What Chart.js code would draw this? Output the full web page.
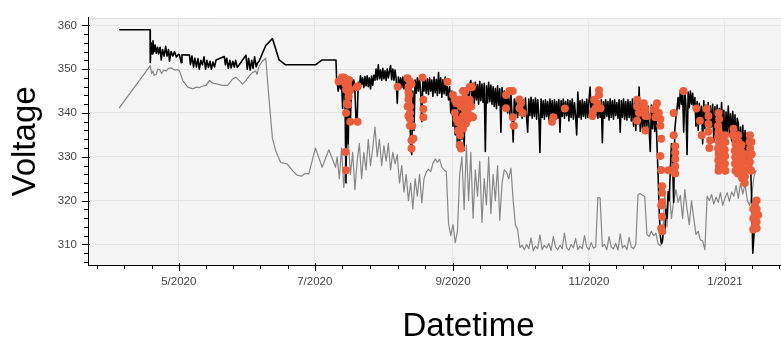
<!DOCTYPE html>
<html>
<head>
<meta charset="utf-8">
<title>Voltage</title>
<script src="https://cdn.jsdelivr.net/npm/chart.js@4.4.1/dist/chart.umd.min.js"></script>
<style>
  html, body { margin: 0; padding: 0; background: #fff; overflow: hidden; }
  #chart { display: block; }
</style>
</head>
<body>
<!-- the plot is wider than the window on purpose: the right part is cut off like in the source picture -->
<canvas id="chart" width="853" height="343"></canvas>
<script>
// ──────────────────────────────────────────────
//  Data
//  x values are days counted from 2020-03-01
// ──────────────────────────────────────────────
const X_MIN = 20.26;   // ~ 21 Mar 2020
const X_MAX = 361.65;  // ~ 26 Feb 2021
const Y_MIN = 305.3;
const Y_MAX = 361.7;

const xTickDays = [61, 122, 184, 245, 306];
const xTickLabels = ['5/2020', '7/2020', '9/2020', '11/2020', '1/2021'];
const yTicks = [310, 320, 330, 340, 350, 360];

// black trace before the logger goes noisy
const blackDays = [34.2, 48.1, 48.2, 48.6, 49.0, 49.4, 49.9, 50.4, 50.9, 51.5, 51.9, 52.6, 53.1, 53.7, 54.4,
    55.1, 55.7, 56.4, 56.8, 57.5, 58.3, 59.1, 59.9, 60.9, 61.3, 62.1, 62.4, 65.8, 66.2, 66.9, 67.6, 68.2,
    68.9, 69.6, 70.2, 70.9, 71.6, 72.3, 73.0, 73.6, 74.3, 75.0, 75.6, 76.3, 77.0, 77.7, 81.4, 81.9, 82.5,
    83.2, 83.9, 84.5, 85.2, 85.9, 86.5, 87.2, 88.1, 91.1, 91.7, 92.3, 93.0, 93.7, 94.3, 95.0, 95.7, 96.3,
    97.0, 100.0, 103.0, 106.0, 108.9, 122.3, 125.3, 131.5, 131.8];
const blackVolts = [359, 359, 351.5, 356, 353.5, 356.5, 354, 355.5, 353.6, 355, 353.5, 355, 352.1, 354.5, 353,
    355.2, 353, 354.5, 351.8, 354, 353, 354, 352.8, 353.4, 353.2, 351.5, 353.3, 353.2, 351, 353, 350.5, 352.5,
    350.5, 352.4, 350, 352, 351, 352.8, 350, 352, 350.4, 351.8, 350, 351.6, 350.5, 352.1, 352.9, 351, 352.5,
    350.2, 352, 350.3, 351.8, 350.5, 352, 350.4, 351, 353.2, 350, 352.5, 349.8, 352, 350.2, 352.8, 350.5, 351.4,
    351.8, 355.4, 357.0, 352.1, 351.0, 351.0, 352.1, 352.1, 347.7];

// black trace, one reading every half day from day 132
const blackDenseStart = 132;
const blackDenseStep = 0.5;
const blackDenseVolts = [
    347, 345, 348, 345.5, 347.5, 341, 348, 345, 324, 347, 333, 347.5, 338, 348, 345.5, 347.5, 345, 338.5, 338, 347,
    346, 348.5, 346.5, 348, 345.8, 348.3, 346.2, 348.5, 346, 348, 345.5, 348.4, 346.3, 348.6, 347.5, 350, 347.6, 351, 347.8, 349.8,
    347.5, 350.2, 347.8, 349.6, 347.4, 350, 348, 349.5, 350.8, 347.6, 350, 347.5, 349.8, 347.8, 342.2, 348.2, 345.6, 348, 345.8, 348.2,
    345.5, 348.3, 344, 347.5, 339, 346, 332, 330.5, 345, 336, 347.5, 344.5, 348, 345, 347.8, 344.8, 338, 348.2, 345, 347.6,
    344.5, 347.8, 344.2, 348, 345, 347.5, 343.8, 348.2, 344.6, 347.7, 344, 349.2, 344.5, 348, 343.6, 347.6, 344.4, 348.2, 344, 346,
    343, 346, 340, 345, 337, 344.5, 335, 343, 332, 342, 332, 343, 334, 344, 331.5, 345, 337, 346, 339, 346.5,
    347.4, 342.5, 346.8, 342.2, 347, 343, 346.5, 342, 347.2, 342.8, 346.6, 342.4, 346.8, 331.2, 346.2, 342.3, 347, 342.6, 346.4, 342,
    346, 341.5, 345.6, 341, 346.2, 341.8, 345.5, 335.6, 345.8, 341.2, 345, 340.8, 344.6, 340, 343.5, 339.5, 344.4, 339.2, 333.4, 343.2,
    339.4, 343.4, 339, 343.2, 339.6, 343.5, 338.8, 343, 339.2, 343.4, 339, 335.6, 343.2, 339.4, 343.6, 338.8, 343, 339.2, 343.4, 338.6,
    343, 339.5, 331, 343.2, 339, 342.8, 338.6, 343, 339.2, 342.6, 338.4, 343.2, 339.6, 342.8, 337.8, 343, 339, 342.6, 338.8, 343,
    335.6, 342.8, 339.2, 343.2, 338.8, 342.6, 339.4, 343, 338.2, 342.8, 339, 343.2, 338.6, 342.4, 339.2, 335, 344.8, 339, 342.8, 338.6,
    343, 339.2, 342.6, 338.8, 343.2, 339, 342.8, 345.9, 339.4, 343, 338.6, 342.6, 339.2, 343.4, 338.8, 342.8, 339, 343, 333.2, 342.6,
    338.8, 343, 339.2, 342.6, 338.4, 343.2, 339, 342.8, 338.6, 343, 339.4, 342.4, 338.8, 343, 335.6, 342.8, 339, 343.2, 338.6, 342.6,
    338.4, 343, 339, 342.6, 338.2, 343.2, 337, 342.4, 336, 342, 337.5, 345.9, 335.8, 342.2, 336.5, 341.8, 335.6, 342.4, 337, 341.6,
    336, 331.2, 341.8, 336.4, 342, 335.8, 341, 333, 326, 318, 312, 310.2, 311, 314, 312.5, 318, 316, 322, 320, 327,
    333, 329, 319.6, 336, 339, 341, 343.5, 341, 345.2, 342, 344.6, 335.6, 345.4, 341.5, 330.5, 344.8, 341.2, 345, 342, 344.5,
    340.8, 343.5, 337, 342.6, 336, 342.2, 338, 341.5, 333, 342.8, 336.4, 341.8, 337, 342.4, 335.6, 341.6, 336.8, 342, 333.4, 341.4,
    336.2, 341.8, 335.4, 341, 336.8, 342.4, 335, 340.6, 332.5, 340.2, 335.6, 341.6, 334.8, 339.8, 333.6, 340.4, 334.2, 339.6, 332, 338.8,
    337.6, 331, 336.8, 329.5, 337.2, 330.2, 336, 328.6, 335.4, 329, 333, 328.4, 320, 308, 312, 318, 314, 320
];

// grey trace, early part
const greyDays = [34.2, 48.2, 48.8, 49.4, 49.9, 50.9, 51.5, 52.4, 53.3, 54.2, 55.4, 56.4, 57.6, 59.1, 60.6,
    61.3, 62.8, 65.0, 67.2, 68.9, 70.2, 71.6, 73.2, 74.7, 76.2, 78.4, 80.6, 82.9, 85.1, 86.6, 88.1, 89.6,
    91.1, 92.6, 94.0, 95.5, 96.1, 97.0, 98.5, 100.0, 101.5, 103.0, 104.5, 106.7, 109.6, 111.9, 114.0, 116.2,
    117.6, 119.3, 122.3, 125.3, 128.3, 131.3];
const greyVolts = [341.1, 350.8, 349, 349.6, 348.6, 348.8, 350, 349.9, 349, 349.8, 349.6, 350.2, 350.3, 349.8, 349.9,
    349.6, 347.4, 345.9, 345.5, 345.9, 345.8, 346.1, 346.3, 347.4, 346.8, 346.6, 346.3, 346.3, 347.7, 348.2, 347.4, 346.6,
    347.4, 348.5, 349.2, 349.6, 348.8, 350.7, 351.8, 352.5, 343, 334.2, 331.3, 328.7, 328.4, 326.9, 325.8, 325.6,
    326.2, 326.1, 332, 327.6, 331.6, 327.6];

// grey trace, one reading a day from day 132
const greyDailyStart = 132;
const greyDailyVolts = [
    330, 325, 332, 323, 330, 334, 326, 331, 322.5, 329,
    333, 325, 331, 327, 334, 328, 332, 336.8, 330, 334,
    328, 332.5, 329, 333, 327, 331, 328.4, 330.5, 324, 328,
    322, 326, 320, 324, 318.1, 325, 321, 326, 319.5, 325,
    326.5, 327.2, 326.6, 328.5, 329.5, 328.8, 329.4, 327.6, 327, 326.6,
    314.8, 312, 314.5, 310.4, 313, 326, 330, 318, 332.7, 320,
    331, 316, 327, 321, 329, 315, 325, 319, 330, 317,
    326, 320, 328, 315.5, 324, 327, 326.5, 325, 327.4, 320,
    314.5, 313.4, 309.3, 309.8, 308.8, 310, 309, 311.5, 308.6, 309.6,
    309, 312.2, 308.8, 309.8, 309.2, 310.2, 308.6, 311.8, 309.4, 308.8,
    309.8, 309, 312.6, 309.2, 308.7, 310, 309.2, 311.4, 308.8, 309.6,
    309, 312, 309.4, 308.8, 310.4, 309.2, 309.4, 320.7, 320.6, 309.5,
    310, 308.8, 311.8, 309.4, 309, 310.2, 308.7, 312.4, 309.2, 309.8,
    308.8, 311.6, 309.4, 309, 310, 321.4, 321.6, 321.2, 321, 312.3,
    311.8, 313, 312, 312.6, 310.2, 309.7, 310.4, 321.8, 314, 322.5,
    315.9, 320, 322.5, 319.6, 321.2, 315.9, 322.5, 318, 314.5, 320,
    316, 312.3, 313, 311, 310.8, 308.8, 321, 320, 321.4, 319.2,
    320.8, 319.6, 321.8, 318.9, 320.6, 321.8, 319.8, 322, 321, 323.4,
    320.5, 324, 321.5, 323.8, 320.2, 318.9, 321, 325.5, 326.9
];

// flagged readings (orange dots), [day, volts]
const flagReadings = [
    [132.7, 347.2], [133.5, 347.4], [134.2, 348.1], [135.0, 348.1], [135.4, 347.9], [136.4, 347.5], [137.2, 347.5],
    [135.7, 346.6], [136.9, 346.5], [137.5, 345.5], [136.0, 345.3], [137.2, 344.8], [137.9, 345.2], [137.2, 343.7],
    [136.4, 342.2], [136.9, 341.9], [136.0, 340.0], [137.9, 338.0], [140.9, 345.9], [141.3, 346.1], [141.2, 338.0],
    [135.7, 331.1], [136.0, 326.9],
    [159.2, 346.0], [163.6, 347.9], [164.7, 347.2], [165.4, 346.6], [164.0, 345.9], [164.0, 344.8], [164.3, 344.1],
    [164.0, 343.1], [163.6, 341.5], [164.7, 341.5], [164.7, 340.0], [164.0, 339.3], [164.7, 338.6], [164.7, 337.1],
    [165.7, 337.0], [166.2, 334.2], [165.4, 333.8], [165.4, 331.9], [170.3, 348.1], [170.7, 343.0], [170.7, 340.9],
    [170.7, 339.0],
    [181.5, 347.1], [184.8, 343.0], [185.5, 342.2], [187.0, 343.1], [189.3, 343.3], [188.5, 345.0], [189.6, 345.0],
    [191.5, 345.9], [184.8, 340.0], [185.5, 338.6], [187.0, 337.9], [187.7, 337.1], [188.5, 336.4], [186.3, 336.0],
    [187.7, 341.5], [189.3, 340.8], [190.7, 340.0], [192.2, 339.3], [193.0, 339.0], [190.7, 338.6], [188.5, 339.3],
    [190.0, 342.2], [191.5, 343.0], [192.2, 341.5], [187.0, 332.7], [187.6, 331.9], [186.3, 337.8], [187.2, 334.9],
    [184.0, 344.1], [189.8, 337.6], [192.5, 345.9],
    [207.8, 344.1], [209.3, 345.0], [210.8, 345.0], [207.8, 341.1], [213.8, 343.1], [214.5, 342.2], [215.3, 340.0],
    [213.8, 341.1], [210.8, 339.0], [211.3, 337.1], [229.1, 339.0], [228.4, 338.0], [234.2, 341.0],
    [247.3, 343.0], [248.0, 341.1], [246.5, 339.3], [249.5, 345.2], [249.5, 344.1], [248.8, 342.2], [250.2, 341.1],
    [246.8, 340.4],
    [266.6, 343.0], [266.6, 341.5], [267.4, 340.0], [266.6, 338.2], [269.6, 342.2], [270.3, 340.8], [271.1, 339.3],
    [269.6, 341.5], [270.3, 339.3], [270.3, 336.0], [274.1, 340.8], [274.8, 341.1], [275.5, 342.2], [276.3, 340.0],
    [277.0, 338.6], [277.0, 337.1], [274.8, 339.0], [277.4, 334.1], [277.0, 330.2], [277.4, 327.0], [277.8, 323.3],
    [277.8, 321.8], [277.8, 319.6], [277.4, 318.9], [277.8, 316.3], [277.4, 313.7], [277.8, 313.0],
    [280.7, 326.9], [283.0, 340.0], [283.0, 334.9], [283.7, 332.4], [283.7, 330.9], [283.7, 329.5], [283.7, 327.8],
    [283.7, 326.2], [283.0, 326.6], [287.4, 345.0], [293.2, 341.0], [294.8, 338.2], [295.6, 334.9], [297.8, 340.9],
    [298.6, 339.3], [298.6, 337.5], [298.6, 335.7], [299.3, 333.8], [299.0, 332.0],
    [303.1, 340.0], [303.4, 338.6], [302.9, 337.1], [303.2, 335.8], [303.0, 334.5], [303.3, 333.2], [302.9, 331.9],
    [303.2, 330.6], [303.0, 329.2], [303.3, 327.9], [303.1, 326.8],
    [304.5, 333.4], [304.7, 332.1], [304.4, 330.6], [304.6, 329.0], [304.5, 327.5],
    [306.0, 334.9], [306.2, 333.4], [305.9, 331.6], [306.1, 330.1], [306.0, 328.4], [306.2, 326.8],
    [309.8, 336.4], [309.6, 334.9],
    [310.5, 334.5], [310.7, 333.0], [310.4, 331.4], [310.6, 329.9], [310.5, 328.4], [310.7, 326.8],
    [312.0, 334.9], [312.2, 333.4], [311.9, 331.9], [312.1, 330.3], [312.0, 328.8], [312.2, 327.3], [311.9, 326.2],
    [313.5, 332.7], [313.3, 331.2], [313.6, 329.7], [313.4, 328.1], [313.5, 326.6], [313.7, 325.1],
    [314.9, 330.6], [315.1, 328.8], [314.8, 327.0], [315.0, 325.5], [314.9, 324.0],
    [317.2, 334.9], [317.0, 333.4], [317.3, 331.9], [317.1, 330.3], [317.2, 328.8], [317.0, 327.3],
    [317.9, 333.4], [318.0, 330.6], [317.8, 326.8],
    [320.2, 320.0], [319.4, 318.9], [318.7, 318.1], [320.2, 318.1], [319.4, 316.7], [320.9, 316.7], [318.7, 315.9],
    [320.2, 315.2], [319.4, 314.3], [320.2, 313.7], [318.7, 313.4]
];

// ──────────────────────────────────────────────
//  Build points
// ──────────────────────────────────────────────
const blackPoints = blackDays.map((d, i) => ({ x: d, y: blackVolts[i] }))
    .concat(blackDenseVolts.map((v, i) => ({ x: blackDenseStart + i * blackDenseStep, y: v })));

const greyPoints = greyDays.map((d, i) => ({ x: d, y: greyVolts[i] }))
    .concat(greyDailyVolts.map((v, i) => ({ x: greyDailyStart + i, y: v })));

const flagPoints = flagReadings.map(([d, v]) => ({ x: d, y: v }));

const FONT = 'Helvetica, Arial, "Liberation Sans", sans-serif';

// ──────────────────────────────────────────────
//  Plugins: grey plot frame + bokeh style ticks
// ──────────────────────────────────────────────
const plotFrame = {
    id: 'plotFrame',
    beforeDraw(chart) {
        const { ctx, chartArea: a } = chart;
        ctx.save();
        ctx.fillStyle = '#f5f5f5';
        ctx.fillRect(a.left, a.top, a.right - a.left, a.bottom - a.top);
        ctx.strokeStyle = '#e3e3e3';
        ctx.lineWidth = 1;
        ctx.beginPath();
        ctx.moveTo(a.left, a.top + 0.5);
        ctx.lineTo(a.right, a.top + 0.5);
        ctx.stroke();
        ctx.restore();
    }
};

function minorXTicks() {
    const out = [];
    const first = xTickDays[1] - xTickDays[0];
    const last = xTickDays[xTickDays.length - 1] - xTickDays[xTickDays.length - 2];
    for (let d = xTickDays[0] - first / 5; d >= X_MIN; d -= first / 5) out.push(d);
    for (let i = 0; i < xTickDays.length - 1; i++) {
        const span = xTickDays[i + 1] - xTickDays[i];
        for (let k = 1; k < 5; k++) out.push(xTickDays[i] + span * k / 5);
    }
    const end = xTickDays[xTickDays.length - 1];
    for (let d = end + last / 5; d <= X_MAX; d += last / 5) out.push(d);
    return out;
}

const axisTicks = {
    id: 'axisTicks',
    afterDraw(chart) {
        const { ctx, chartArea: a, scales } = chart;
        ctx.save();
        ctx.strokeStyle = '#000';
        ctx.lineWidth = 1;
        ctx.beginPath();
        // y: major every 10 V, minor every 2 V
        for (let v = 306; v <= Y_MAX; v += 2) {
            const y = Math.round(scales.y.getPixelForValue(v)) + 0.5;
            const major = yTicks.includes(v);
            ctx.moveTo(a.left - (major ? 6 : 4), y);
            ctx.lineTo(a.left + (major ? 2 : 0), y);
        }
        // x: majors at month labels, 4 minors between
        xTickDays.forEach(d => {
            const x = Math.round(scales.x.getPixelForValue(d)) + 0.5;
            ctx.moveTo(x, a.bottom - 2);
            ctx.lineTo(x, a.bottom + 6);
        });
        minorXTicks().forEach(d => {
            const x = Math.round(scales.x.getPixelForValue(d)) + 0.5;
            ctx.moveTo(x, a.bottom);
            ctx.lineTo(x, a.bottom + 4);
        });
        ctx.stroke();
        ctx.restore();
    }
};

// ──────────────────────────────────────────────
//  Chart
// ──────────────────────────────────────────────
new Chart(document.getElementById('chart'), {
    type: 'line',
    data: {
        datasets: [
            {
                type: 'scatter',
                label: 'Flagged',
                data: flagPoints,
                pointRadius: 4,
                pointBackgroundColor: '#eb5e3b',
                pointBorderColor: '#eb5e3b',
                pointBorderWidth: 0,
                order: 0,
            },
            {
                label: 'Voltage',
                data: blackPoints,
                borderColor: '#000',
                borderWidth: 1.6,
                borderJoinStyle: 'round',
                pointRadius: 0,
                tension: 0,
                order: 1,
            },
            {
                label: 'Reference',
                data: greyPoints,
                borderColor: '#878787',
                borderWidth: 1.2,
                borderJoinStyle: 'round',
                pointRadius: 0,
                tension: 0,
                order: 2,
            }
        ]
    },
    options: {
        responsive: false,
        animation: false,
        events: [],
        layout: { padding: { top: 8, left: 0, right: 0, bottom: 0 } },
        plugins: {
            legend: { display: false },
            tooltip: { enabled: false }
        },
        scales: {
            x: {
                type: 'linear',
                min: X_MIN,
                max: X_MAX,
                afterBuildTicks: (s) => { s.ticks = xTickDays.map(v => ({ value: v })); },
                afterFit: (s) => { s.height = 78; },
                ticks: {
                    autoSkip: false,
                    maxRotation: 0,
                    padding: 10,
                    color: '#444',
                    font: { family: FONT, size: 11.5 },
                    callback: (v, i) => xTickLabels[i]
                },
                grid: { color: '#e5e5e5', drawTicks: false },
                border: { color: '#000', width: 1 },
                title: {
                    display: true,
                    text: 'Datetime',
                    color: '#000',
                    font: { family: FONT, size: 33, lineHeight: 0.96 },
                    padding: 0
                }
            },
            y: {
                min: Y_MIN,
                max: Y_MAX,
                afterBuildTicks: (s) => { s.ticks = yTicks.map(v => ({ value: v })); },
                afterFit: (s) => { s.width = 88; },
                ticks: {
                    padding: 11,
                    color: '#444',
                    font: { family: FONT, size: 11.5 },
                    callback: (v) => String(v)
                },
                grid: { color: '#e5e5e5', drawTicks: false },
                border: { color: '#000', width: 1 },
                title: {
                    display: true,
                    text: 'Voltage',
                    color: '#000',
                    font: { family: FONT, size: 33 },
                    padding: { top: 6, bottom: 0 }
                }
            }
        }
    },
    plugins: [plotFrame, axisTicks]
});
</script>
</body>
</html>
